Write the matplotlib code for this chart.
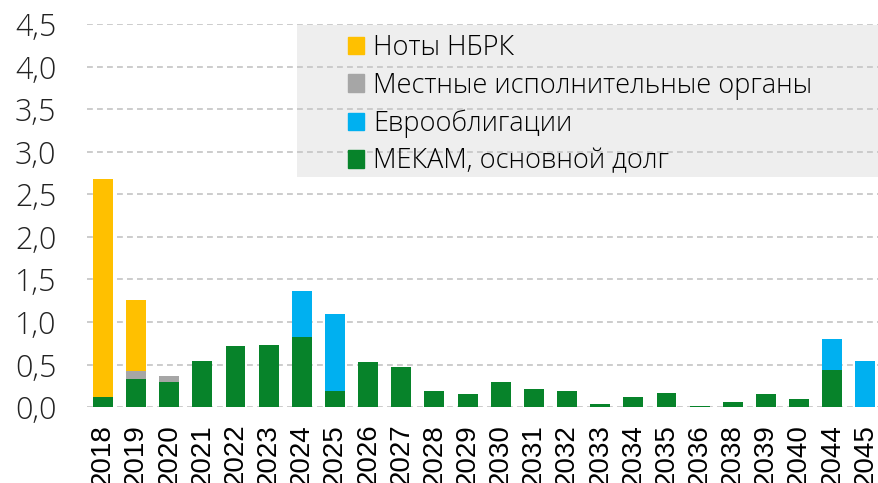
import matplotlib
matplotlib.use('Agg')
import matplotlib.pyplot as plt
from matplotlib.patches import Patch, Rectangle
import numpy as np

# ── Data ───────────────────────────────────────────────────────
years = ['2018', '2019', '2020', '2021', '2022', '2023', '2024', '2025',
         '2026', '2027', '2028', '2029', '2030', '2031', '2032', '2033',
         '2034', '2035', '2036', '2038', '2039', '2040', '2044', '2045']
mekam = [0.12, 0.33, 0.30, 0.54, 0.72, 0.725, 0.82, 0.19,
         0.525, 0.47, 0.185, 0.15, 0.30, 0.21, 0.185, 0.04,
         0.115, 0.17, 0.01, 0.065, 0.16, 0.10, 0.44, 0.0]
local = [0.0, 0.09, 0.07, 0.0, 0.0, 0.0, 0.0, 0.0,
         0.0, 0.0, 0.0, 0.0, 0.0, 0.0, 0.0, 0.0,
         0.0, 0.0, 0.0, 0.0, 0.0, 0.0, 0.0, 0.0]
euro = [0.0, 0.0, 0.0, 0.0, 0.0, 0.0, 0.55, 0.91,
        0.0, 0.0, 0.0, 0.0, 0.0, 0.0, 0.0, 0.0,
        0.0, 0.0, 0.0, 0.0, 0.0, 0.0, 0.36, 0.545]
notes = [2.56, 0.84, 0.0, 0.0, 0.0, 0.0, 0.0, 0.0,
         0.0, 0.0, 0.0, 0.0, 0.0, 0.0, 0.0, 0.0,
         0.0, 0.0, 0.0, 0.0, 0.0, 0.0, 0.0, 0.0]
yticks = [0.0, 0.5, 1.0, 1.5, 2.0, 2.5, 3.0, 3.5, 4.0, 4.5]

C_GREEN = '#07832a'
C_GRAY = '#a6a6a6'
C_BLUE = '#00b0f0'
C_YELLOW = '#ffc000'

# ── Plot ───────────────────────────────────────────────────────
fig = plt.figure(figsize=(8.79, 4.83), dpi=100)
ax = fig.add_axes([0.099, 0.157, 0.901, 0.793])

x = np.arange(len(years))
w = 0.6
b1 = np.array(mekam)
b2 = b1 + np.array(local)
b3 = b2 + np.array(euro)
ax.bar(x, mekam, w, color=C_GREEN, zorder=2)
ax.bar(x, local, w, bottom=b1, color=C_GRAY, zorder=2)
ax.bar(x, euro, w, bottom=b2, color=C_BLUE, zorder=2)
ax.bar(x, notes, w, bottom=b3, color=C_YELLOW, zorder=2)

ax.set_xlim(-0.48, len(years) - 1 + 0.41)
ax.set_ylim(0, 4.5)
ax.set_yticks(yticks)
ax.set_yticklabels([f'{v:.1f}'.replace('.', ',') for v in yticks],
                   fontsize=22, family='Open Sans', fontweight='light', color='#222')
ax.set_xticks(x)
ax.set_xticklabels(years, rotation=90, fontsize=20, family='Liberation Sans')
ax.tick_params(axis='both', length=0)
ax.tick_params(axis='y', pad=22)
ax.tick_params(axis='x', pad=12)
for s in ax.spines.values():
    s.set_visible(False)

ax.set_axisbelow(True)
ax.yaxis.grid(True, color='#c4c4c4', linestyle=(0, (3.5, 2.5)), linewidth=1.2, zorder=1)

# grey backing box behind the legend (gridlines show through)
ax.add_patch(Rectangle((0.338, 0.634), 0.662, 0.314, transform=fig.transFigure,
                       facecolor='#eeeeee', edgecolor='none', zorder=0.5))

handles = [Patch(color=C_YELLOW, label='Ноты НБРК'),
           Patch(color=C_GRAY, label='Местные исполнительные органы'),
           Patch(color=C_BLUE, label='Еврооблигации'),
           Patch(color=C_GREEN, label='МЕКАМ, основной долг')]
leg = ax.legend(handles=handles, loc='upper left', bbox_to_anchor=(0.396, 0.93),
                bbox_transform=fig.transFigure, frameon=False, borderpad=0,
                prop={'family': 'Open Sans', 'weight': 'light', 'size': 19.5},
                handlelength=0.6, handleheight=0.6, handletextpad=0.33,
                labelspacing=0.36, borderaxespad=0)

fig.savefig('out.png', dpi=100)
